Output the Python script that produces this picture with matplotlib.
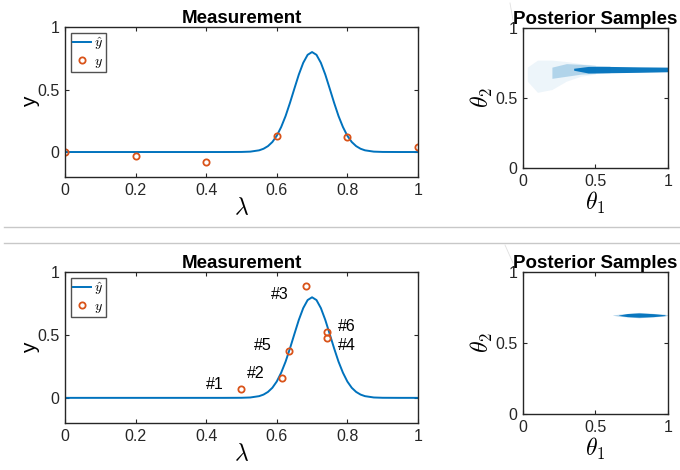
import matplotlib
matplotlib.use("Agg")
import matplotlib.pyplot as plt
from matplotlib.lines import Line2D

plt.rcParams['font.family'] = ['Liberation Sans', 'DejaVu Sans']
plt.rcParams['mathtext.fontset'] = 'cm'

blue = '#0072BD'
orange = '#D95319'
dark = '#262626'

# model curve y-hat
lam = [0.0, 0.45, 0.5, 0.525, 0.55, 0.5625, 0.575, 0.5875, 0.6, 0.6125, 0.625,
       0.6375, 0.65, 0.6625, 0.675, 0.6875, 0.7, 0.7125, 0.725, 0.7375, 0.75,
       0.7625, 0.775, 0.7875, 0.8, 0.8125, 0.825, 0.8375, 0.85, 0.875, 0.9,
       0.95, 1.0]
yhat = [0.0, 0.0, 0.0006, 0.003, 0.0135, 0.026, 0.047, 0.080, 0.130, 0.200, 0.288,
        0.394, 0.508, 0.620, 0.714, 0.778, 0.800, 0.778, 0.714, 0.620, 0.508,
        0.394, 0.288, 0.200, 0.130, 0.080, 0.047, 0.026, 0.0135, 0.003, 0.0006,
        0.0, 0.0]

# top row measurements
lam_top = [0.0, 0.2, 0.4, 0.6, 0.8, 1.0]
y_top = [0.004, -0.035, -0.08, 0.132, 0.124, 0.038]

# bottom row measurements
lam_bot = [0.5, 0.614, 0.683, 0.743, 0.634, 0.743]
y_bot = [0.07, 0.155, 0.886, 0.479, 0.375, 0.527]
lab_bot = ['#1', '#2', '#3', '#4', '#5', '#6']
lab_x = [0.40, 0.515, 0.583, 0.774, 0.535, 0.774]
lab_y = [0.11, 0.195, 0.825, 0.42, 0.415, 0.567]

# posterior sample clouds (envelopes)
top_sparse_t = [0.03, 0.1, 0.2, 0.3, 0.4, 0.5]
top_sparse_hi = [0.72, 0.77, 0.77, 0.76, 0.745, 0.735]
top_sparse_lo = [0.62, 0.54, 0.56, 0.62, 0.655, 0.67]
top_mid_t = [0.2, 0.3, 0.4, 0.5, 0.6]
top_mid_hi = [0.72, 0.745, 0.74, 0.732, 0.728]
top_mid_lo = [0.64, 0.655, 0.67, 0.675, 0.68]
top_dense_t = [0.35, 0.45, 0.6, 0.8, 1.0]
top_dense_hi = [0.712, 0.725, 0.725, 0.722, 0.72]
top_dense_lo = [0.698, 0.678, 0.68, 0.683, 0.687]

bot_sparse_t = [0.62, 0.66, 0.8, 0.98, 1.0]
bot_sparse_hi = [0.698, 0.703, 0.716, 0.703, 0.698]
bot_sparse_lo = [0.696, 0.689, 0.678, 0.69, 0.696]
bot_dense_t = [0.66, 0.72, 0.8, 0.9, 0.98]
bot_dense_hi = [0.697, 0.708, 0.712, 0.707, 0.699]
bot_dense_lo = [0.695, 0.686, 0.682, 0.686, 0.694]

fig = plt.figure(figsize=(6.8, 4.7), dpi=100)


def style(ax):
    ax.tick_params(direction='in', top=True, right=True, length=3, width=0.8,
                   color=dark, labelcolor=dark, labelsize=11.5, pad=4)
    for s in ax.spines.values():
        s.set_color(dark)
        s.set_linewidth(1.0)


def meas_axes(rect, lx, ly):
    ax = fig.add_axes(rect)
    ax.plot(lam, yhat, color=blue, lw=1.4, label=r'$\hat{y}$')
    ax.plot(lx, ly, 'o', mfc='none', mec=orange, mew=1.3, ms=4.5, label=r'$y$')
    ax.set_xlim(0, 1)
    ax.set_ylim(-0.2, 1)
    ax.set_xticks([0, 0.2, 0.4, 0.6, 0.8, 1])
    ax.set_xticklabels(['0', '0.2', '0.4', '0.6', '0.8', '1'])
    ax.set_yticks([0, 0.5, 1])
    ax.set_yticklabels(['0', '0.5', '1'])
    ax.set_title('Measurement', fontsize=13.5, fontweight='bold', pad=3)
    ax.set_xlabel(r'$\lambda$', fontsize=17, labelpad=0)
    ax.set_ylabel('y', fontsize=15, labelpad=-2)
    leg = ax.legend(loc='upper left', fontsize=10, handlelength=1.3,
                    handletextpad=0.2, borderpad=0.2, labelspacing=0.1,
                    fancybox=False, borderaxespad=0.4)
    leg.get_frame().set_edgecolor(dark)
    leg.get_frame().set_linewidth(1.0)
    style(ax)
    return ax


def post_axes(rect):
    ax = fig.add_axes(rect)
    ax.set_xlim(0, 1)
    ax.set_ylim(0, 1)
    ax.set_xticks([0, 0.5, 1])
    ax.set_xticklabels(['0', '0.5', '1'])
    ax.set_yticks([0, 0.5, 1])
    ax.set_yticklabels(['0', '0.5', '1'])
    ax.set_title('Posterior Samples', fontsize=13.5, fontweight='bold', pad=3)
    ax.set_xlabel(r'$\theta_1$', fontsize=17, labelpad=1)
    ax.set_ylabel(r'$\theta_2$', fontsize=17, labelpad=0)
    style(ax)
    return ax


ax1 = meas_axes([0.0956, 0.6234, 0.519, 0.319], lam_top, y_top)

ax2 = post_axes([0.769, 0.6426, 0.2132, 0.298])
ax2.fill_between(top_sparse_t, top_sparse_lo, top_sparse_hi, color=blue, alpha=0.07, lw=0)
ax2.fill_between(top_mid_t, top_mid_lo, top_mid_hi, color=blue, alpha=0.25, lw=0)
ax2.fill_between(top_dense_t, top_dense_lo, top_dense_hi, color=blue, alpha=0.95, lw=0)

ax3 = meas_axes([0.0956, 0.100, 0.519, 0.321], lam_bot, y_bot)
for t, x, y in zip(lab_bot, lab_x, lab_y):
    ax3.text(x, y, t, fontsize=11.5, va='center', ha='left')

ax4 = post_axes([0.769, 0.1191, 0.2132, 0.302])
ax4.fill_between(bot_sparse_t, bot_sparse_lo, bot_sparse_hi, color=blue, alpha=0.3, lw=0)
ax4.fill_between(bot_dense_t, bot_dense_lo, bot_dense_hi, color=blue, alpha=0.95, lw=0)

# separator lines between the two stitched screenshots
for yy in [227, 243]:
    fig.add_artist(Line2D([4 / 680, 1], [1 - yy / 470, 1 - yy / 470],
                          color='#c8c8c8', lw=1.0))
fig.add_artist(Line2D([510 / 680, 513 / 680], [1 - 3 / 470, 1 - 20 / 470],
                      color='#e0e0e0', lw=0.6))
fig.add_artist(Line2D([505 / 680, 513 / 680], [1 - 245 / 470, 1 - 263 / 470],
                      color='#e0e0e0', lw=0.6))

fig.savefig('out.png', dpi=100)
